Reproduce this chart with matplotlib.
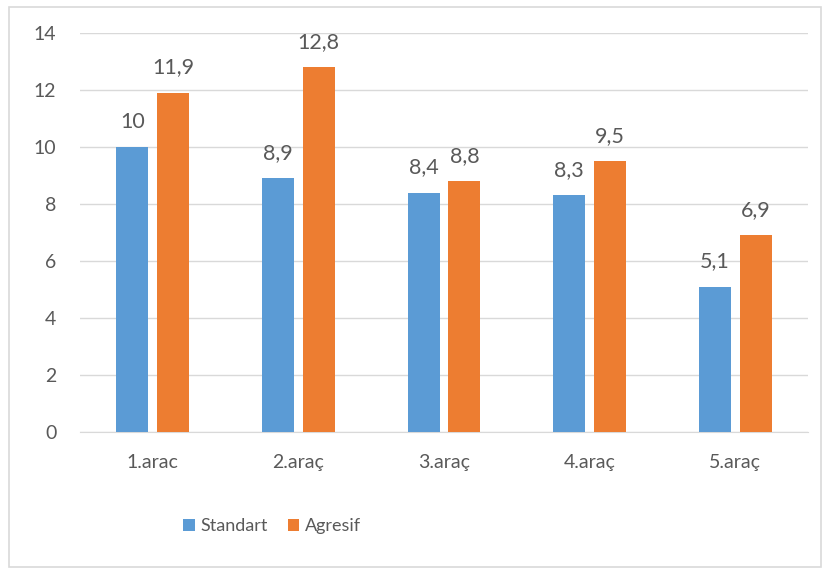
import matplotlib.pyplot as plt
import numpy as np
from matplotlib.patches import Rectangle

plt.rcParams['font.family'] = ['Lato', 'DejaVu Sans']

kategoriler = ["1.arac", "2.araç", "3.araç", "4.araç", "5.araç"]
standart = [10, 8.9, 8.4, 8.3, 5.1]
agresif = [11.9, 12.8, 8.8, 9.5, 6.9]
seriler = ["Standart", "Agresif"]

mavi = "#5B9BD5"
turuncu = "#ED7D31"
gri = "#595959"

fig = plt.figure(figsize=(8.28, 5.74), dpi=100)
ax = fig.add_axes([80 / 828, 142 / 574, 728 / 828, 399 / 574])

x = np.arange(len(kategoriler))
w = 0.22
b1 = ax.bar(x - 0.14, standart, w, color=mavi, label=seriler[0], zorder=3)
b2 = ax.bar(x + 0.14, agresif, w, color=turuncu, label=seriler[1], zorder=3)

def etiket(v):
    return ("%g" % v).replace(".", ",")

for bars, vals in [(b1, standart), (b2, agresif)]:
    for r, v in zip(bars, vals):
        ax.annotate(etiket(v), (r.get_x() + r.get_width() / 2, v),
                    xytext=(0, 11), textcoords="offset points",
                    ha="center", va="bottom", fontsize=15.5, color=gri)

ax.set_xlim(-0.5, len(kategoriler) - 0.5)
ax.set_ylim(0, 14)
ax.set_yticks(range(0, 15, 2))
ax.set_xticks(x)
ax.set_xticklabels(kategoriler)
ax.yaxis.grid(True, color="#D9D9D9", linewidth=1, zorder=0)
for s in ["top", "right", "left"]:
    ax.spines[s].set_visible(False)
ax.spines["bottom"].set_color("#D9D9D9")
ax.tick_params(axis="both", length=0, labelsize=14, colors=gri)
ax.tick_params(axis="y", pad=17)
ax.tick_params(axis="x", pad=16)

leg = fig.legend(handles=[b1, b2], labels=seriler, loc="center",
                 bbox_to_anchor=(272 / 828, 1 - 526 / 574), ncol=2, frameon=False,
                 fontsize=13, handlelength=0.65, handleheight=0.65,
                 handletextpad=0.3, columnspacing=1.1)
for t in leg.get_texts():
    t.set_color(gri)

fig.patches.append(Rectangle((9 / 828, 7 / 574), 812 / 828, 560 / 574,
                             transform=fig.transFigure, fill=False,
                             edgecolor="#D9D9D9", linewidth=1.2))

fig.savefig("out.png", dpi=100)
